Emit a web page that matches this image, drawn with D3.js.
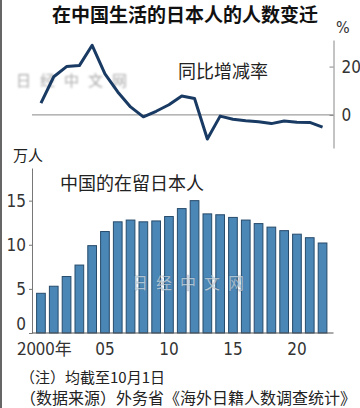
<!DOCTYPE html>
<meta charset="utf-8">
<style>
    html, body { margin: 0; padding: 0; background: #fff; }
    svg { display: block; }
    .cjk { font-family: "Noto Sans CJK SC", sans-serif; fill: #222; }
    .num { font-family: "Liberation Sans Narrow", "DejaVu Sans", sans-serif; font-stretch: condensed; fill: #333; }
</style>
<svg id="chart" width="360" height="408"></svg>
<script src="https://d3js.org/d3.v7.js"></script>
<script>
    // years 2000 .. 2022
    const years = d3.range(2000, 2023);
    // year-on-year change, %
    const changePct = [4.9, 15.8, 20.0, 20.4, 28.8, 17.0, 9.5, 3.3, -0.8, 1.5, 4.2, 7.8, 6.8,
        -10.0, -0.5, -1.8, -2.4, -2.8, -3.6, -2.5, -3.0, -3.1, -5.1];
    // Japanese residents in China, 10k people
    const residents = [4.5, 5.3, 6.4, 7.7, 9.9, 11.5, 12.6, 12.8, 12.6, 12.7, 13.2, 14.1, 15.0,
        13.5, 13.4, 13.1, 12.8, 12.4, 12.0, 11.6, 11.2, 10.8, 10.2];
    const topTicks = [0, 20];
    const barTicks = [0, 5, 10, 15];
    const yearTicks = [2000, 2005, 2010, 2015, 2020];

    const svg = d3.select("#chart");

    // left frame edge of the screenshot
    svg.append("line")
        .attr("x1", 1).attr("x2", 1).attr("y1", 0).attr("y2", 408)
        .attr("stroke", "#666").attr("stroke-width", 2);

    // title
    svg.append("text").attr("class", "cjk")
        .attr("x", 185).attr("y", 22)
        .attr("text-anchor", "middle")
        .style("font-size", "19px").style("font-weight", "bold").style("fill", "#111")
        .text("在中国生活的日本人的人数变迁");

    let x = d3.scaleBand()
        .domain(years)
        .range([32.5, 331])
        .padding(0.32);
    const cx = d => x(d) + x.bandwidth() / 2;

    // ---- top: change rate line ----
    let yTop = d3.scaleLinear().domain([-13.7, 31]).range([148, 40]);

    svg.append("line")
        .attr("x1", 32).attr("x2", 333.5)
        .attr("y1", yTop(0)).attr("y2", yTop(0))
        .attr("stroke", "#888").attr("stroke-width", 1);

    let topAxis = svg.append("g")
        .attr("transform", "translate(333.5,0)")
        .call(d3.axisRight(yTop).tickValues(topTicks).tickSize(-4).tickSizeOuter(0).tickPadding(8));
    topAxis.select(".domain").attr("stroke", "#888");
    topAxis.selectAll(".tick line").attr("stroke", "#888");
    topAxis.selectAll(".tick text").attr("class", "num").style("font-size", "17px");

    svg.append("text").attr("class", "num")
        .attr("x", 336).attr("y", 33)
        .style("font-size", "16px")
        .text("%");

    // faint watermark
    let blur = svg.append("defs").append("filter").attr("id", "blur");
    blur.append("feGaussianBlur").attr("stdDeviation", 0.9);
    svg.append("text").attr("class", "cjk")
        .attr("x", 16).attr("y", 86)
        .attr("filter", "url(#blur)")
        .style("font-size", "15px").style("fill", "#aaa").style("letter-spacing", "9px")
        .text("日经中文网");

    svg.append("text").attr("class", "cjk")
        .attr("x", 178).attr("y", 78)
        .style("font-size", "18px")
        .text("同比增减率");

    svg.append("path")
        .datum(changePct)
        .attr("fill", "none")
        .attr("stroke", "#183a63")
        .attr("stroke-width", 3)
        .attr("stroke-linejoin", "round")
        .attr("d", d3.line().x((d, i) => cx(years[i])).y(d => yTop(d)));

    // ---- bottom: residents bars ----
    let yBar = d3.scaleLinear().domain([0, 18.7]).range([333, 168]);

    svg.append("text").attr("class", "cjk")
        .attr("x", 13).attr("y", 161)
        .style("font-size", "15px")
        .text("万人");

    svg.append("text").attr("class", "cjk")
        .attr("x", 60).attr("y", 190)
        .style("font-size", "18px")
        .text("中国的在留日本人");

    svg.append("g")
        .selectAll("rect")
        .data(residents)
        .join("rect")
        .attr("x", (d, i) => x(years[i]))
        .attr("y", d => yBar(d))
        .attr("width", x.bandwidth())
        .attr("height", d => yBar(0) - yBar(d))
        .attr("fill", "#4a86b6")
        .attr("stroke", "#274b6b")
        .attr("stroke-width", 1);

    let leftAxis = svg.append("g")
        .attr("transform", "translate(32,0)")
        .call(d3.axisLeft(yBar).tickValues(barTicks).tickSize(3).tickSizeOuter(0).tickPadding(3));
    leftAxis.select(".domain").attr("stroke", "#777");
    leftAxis.selectAll(".tick line").attr("stroke", "#777");
    leftAxis.selectAll(".tick text").attr("class", "num").style("font-size", "17px")
        .attr("dy", d => d === 0 ? "-0.2em" : "0.32em");

    let bottomAxis = svg.append("g")
        .attr("transform", "translate(0,333)")
        .call(d3.axisBottom(x).tickValues(yearTicks).tickSize(0).tickSizeOuter(0).tickPadding(10)
            .tickFormat(d => d === 2000 ? "2000年" : String(d).slice(2)));
    bottomAxis.select(".domain").attr("stroke", "#555").attr("d", "M32,0H333.5");
    bottomAxis.selectAll(".tick text").attr("class", "num").style("font-size", "17px");
    bottomAxis.selectAll(".tick text").filter(d => d === 2000)
        .attr("text-anchor", "start").attr("x", -24)
        .style("font-family", "'Liberation Sans Narrow', 'Noto Sans CJK SC', sans-serif");

    // watermark over the bars
    svg.append("text").attr("class", "cjk")
        .attr("x", 132).attr("y", 289)
        .style("font-size", "16px").style("fill", "#fff").style("fill-opacity", 0.75)
        .style("letter-spacing", "8px").style("stroke", "#2b5777").style("stroke-opacity", 0.3)
        .text("日经中文网");

    // notes
    svg.append("text").attr("class", "cjk")
        .attr("x", 20).attr("y", 383)
        .style("font-size", "15px")
        .text("（注）均截至10月1日");
    svg.append("text").attr("class", "cjk")
        .attr("x", 20).attr("y", 404)
        .style("font-size", "16px")
        .text("（数据来源）外务省《海外日籍人数调查统计》");
</script>
